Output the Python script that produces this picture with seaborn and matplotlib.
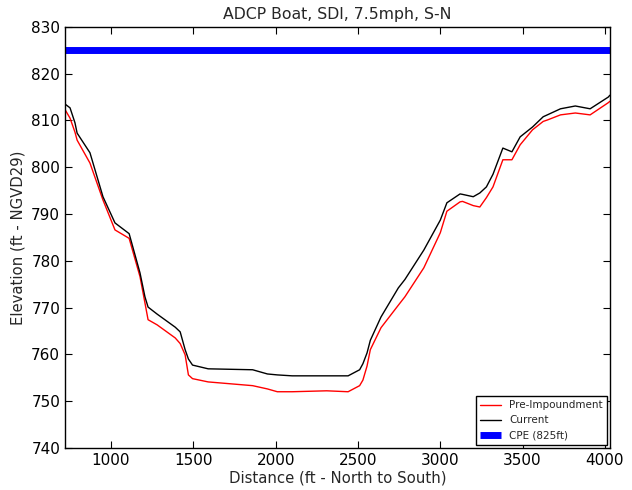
#!/usr/bin/env python
"""Cross-section profile: pre-impoundment vs current bed elevation, ADCP boat survey."""
import matplotlib
matplotlib.use("Agg")
import matplotlib.pyplot as plt
import pandas as pd
import seaborn as sns

# distance along the transect (ft, north to south)
distance = [721, 751, 781, 794, 872, 951, 1024, 1110, 1176, 1206, 1225, 1280,
            1390, 1420, 1450, 1470, 1495, 1590, 1860, 1950, 2010, 2100, 2310,
            2440, 2510, 2530, 2555, 2575, 2640, 2745, 2785, 2900, 3000, 3040,
            3120, 3135, 3200, 3240, 3280, 3320, 3380, 3435, 3485, 3560, 3625,
            3650, 3730, 3820, 3910, 4020, 4030]
current = [813.5, 812.7, 809.5, 807.3, 803.1, 793.7, 788.1, 785.8, 777.4, 772.3,
           770.1, 768.6, 765.8, 764.8, 761.0, 759.0, 757.7, 756.9, 756.7, 755.8,
           755.6, 755.4, 755.4, 755.4, 756.7, 758.0, 760.3, 763.0, 768.0, 774.2,
           776.0, 782.3, 788.7, 792.4, 794.3, 794.2, 793.7, 794.5, 795.8, 798.5,
           804.1, 803.3, 806.5, 808.6, 810.8, 811.2, 812.5, 813.1, 812.5, 815.0,
           815.4]
pre_impoundment = [812.3, 810.5, 807.5, 805.8, 800.9, 793.0, 786.6, 784.8, 776.6,
                   771.0, 767.4, 766.3, 763.5, 762.3, 759.9, 755.6, 754.8, 754.1,
                   753.3, 752.6, 752.0, 752.0, 752.2, 752.0, 753.3, 754.5, 757.5,
                   761.0, 765.7, 770.5, 772.3, 778.5, 786.0, 790.6, 792.6, 792.7,
                   791.8, 791.5, 793.5, 795.8, 801.6, 801.6, 804.8, 808.0, 809.8,
                   810.1, 811.2, 811.6, 811.2, 813.8, 814.1]
cpe = 825

sns.set_style("ticks", {"xtick.direction": "in", "ytick.direction": "in",
                        "axes.edgecolor": "black"})
plt.rcParams["font.family"] = ["DejaVu Sans"]

df = pd.DataFrame({"distance": distance * 2,
                   "elevation": pre_impoundment + current,
                   "series": ["Pre-Impoundment"] * len(distance) + ["Current"] * len(distance)})

fig = plt.figure(figsize=(6.32, 4.9), dpi=100)
ax = fig.add_axes([0.103, 0.086, 0.862, 0.859])
sns.lineplot(data=df, x="distance", y="elevation", hue="series",
             palette={"Pre-Impoundment": "red", "Current": "black"},
             linewidth=1.0, sort=False, ax=ax)
ax.axhline(cpe, color="blue", linewidth=5, solid_capstyle="butt", label="CPE (825ft)")

ax.set_xlim(min(distance), max(distance))
ax.set_ylim(740, 830)
ax.set_xticks([1000, 1500, 2000, 2500, 3000, 3500, 4000])
ax.set_yticks(range(740, 831, 10))
ax.tick_params(top=True, right=True, length=5, width=0.8, labelsize=11, colors="black")
for s in ax.spines.values():
    s.set_linewidth(1.0)
    s.set_color("black")
ax.set_xlabel("Distance (ft - North to South)", fontsize=10.7, labelpad=2)
ax.set_ylabel("Elevation (ft - NGVD29)", fontsize=10.7)
ax.set_title("ADCP Boat, SDI, 7.5mph, S-N", fontsize=11.3)

leg = ax.legend(loc="lower right", fontsize=7.5, fancybox=False, framealpha=1,
                edgecolor="black", borderaxespad=0.3)
leg.get_frame().set_linewidth(1.0)

fig.savefig("out.png", dpi=100)
